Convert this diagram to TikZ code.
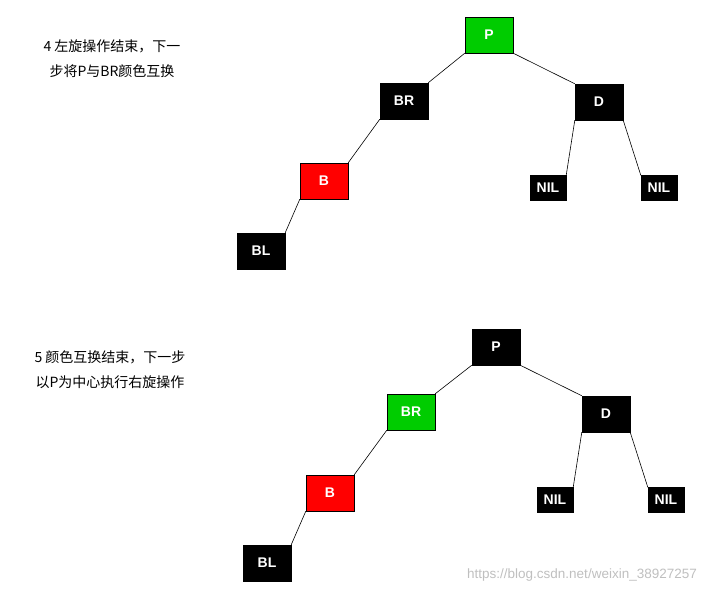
\documentclass[tikz,border=0pt]{standalone}
\usepackage{fontspec}
\setmainfont{Liberation Sans}
\newfontfamily\cjk{Noto Sans CJK SC}
\begin{document}
\begin{tikzpicture}[x=1pt,y=-1pt,
 nd/.style={draw=black,fill=black,text=white,font=\bfseries\fontsize{14}{16}\selectfont,minimum width=48pt,minimum height=36pt,inner sep=0pt},
 nil/.style={nd,minimum width=36pt,minimum height=25pt},
 ln/.style={draw=black,line width=0.6pt},
 lbl/.style={font=\cjk\fontsize{14}{25}\selectfont,align=center}]
\useasboundingbox (0,0) rectangle (727,593);
% top
\node[nd,fill={rgb,255:red,0;green,204;blue,0}] (p1) at (489,35) {P};
\node[nd] (br1) at (404,101) {BR};
\node[nd] (d1) at (599,102) {D};
\node[nd,fill=red] (b1) at (324,181) {B};
\node[nd] (bl1) at (261,251) {BL};
\node[nil] (n1) at (548,188) {NIL};
\node[nil] (n2) at (659,188) {NIL};
\draw[ln] (p1.south west) -- (br1.north east);
\draw[ln] (p1.south east) -- (d1.north west);
\draw[ln] (br1.south west) -- (b1.north east);
\draw[ln] (b1.south west) -- (bl1.north east);
\draw[ln] (d1.south west) -- (n1.north east);
\draw[ln] (d1.south east) -- (n2.north west);
\node[lbl] (t1) at (112,59) {4 左旋操作结束，下一\\步将P与BR颜色互换};
% bottom
\node[nd] (p2) at (496,347) {P};
\node[nd,fill={rgb,255:red,0;green,204;blue,0}] (br2) at (411,412) {BR};
\node[nd] (d2) at (606,414) {D};
\node[nd,fill=red] (b2) at (330,493) {B};
\node[nd] (bl2) at (267,563) {BL};
\node[nil] (n3) at (555,500) {NIL};
\node[nil] (n4) at (666,500) {NIL};
\draw[ln] (p2.south west) -- (br2.north east);
\draw[ln] (p2.south east) -- (d2.north west);
\draw[ln] (br2.south west) -- (b2.north east);
\draw[ln] (b2.south west) -- (bl2.north east);
\draw[ln] (d2.south west) -- (n3.north east);
\draw[ln] (d2.south east) -- (n4.north west);
\node[lbl] (t2) at (110,370) {5 颜色互换结束，下一步\\以P为中心执行右旋操作};
\node[font=\fontsize{13.5}{15}\selectfont,text=black!25] (wm) at (582,575) {https://blog.csdn.net/weixin\_38927257};
\end{tikzpicture}
\end{document}
